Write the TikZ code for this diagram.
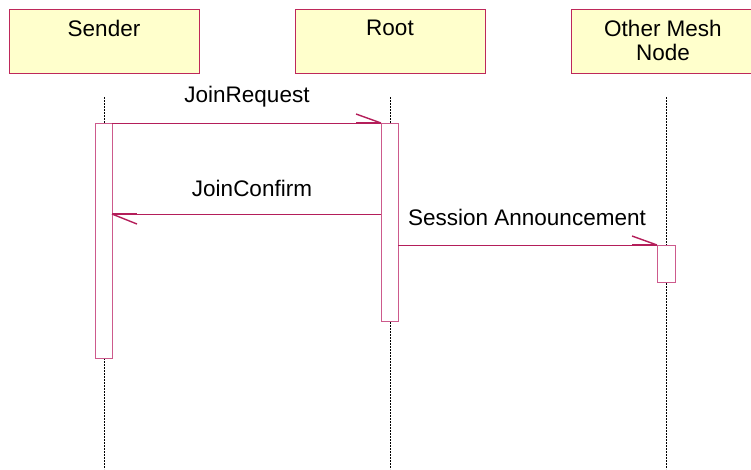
\documentclass[tikz,border=0pt]{standalone}
\usepackage{fontspec}
\setmainfont{Liberation Sans}
\definecolor{boxfill}{RGB}{255,255,204}
\definecolor{boxedge}{RGB}{190,40,90}
\definecolor{msgline}{RGB}{180,30,90}
\definecolor{baredge}{RGB}{205,90,140}
\begin{document}
\begin{tikzpicture}[x=1pt,y=-1pt,
  actor/.style={draw=boxedge,fill=boxfill,line width=1pt,minimum width=190pt,minimum height=64pt,
    inner sep=0pt,anchor=north},
  txt/.style={font=\fontsize{22.5}{24}\selectfont,inner sep=0pt,align=center},
  lifeline/.style={draw=black,line width=0.6pt,dash pattern=on 2pt off 1pt},
  activation/.style={draw=baredge,fill=white,line width=1pt},
  msg/.style={draw=msgline,line width=0.9pt},
  barb/.style={draw=msgline,line width=1.4pt}]
\useasboundingbox (0,0) rectangle (751,469);

% participant heads
\node[actor] (sender) at (104,9) {};
\node[txt] (senderName) at (104,28) {Sender};
\node[actor] (root) at (390,9) {};
\node[txt] (rootName) at (390,28) {Root};
\node[actor] (other) at (666,9) {};
\node[txt] (otherName) at (663,40) {Other Mesh\\Node};

% lifelines
\coordinate (sTop) at (104,97);  \coordinate (sBot) at (104,469);
\coordinate (rTop) at (390,97);  \coordinate (rBot) at (390,469);
\coordinate (oTop) at (666,97);  \coordinate (oBot) at (666,469);
\draw[lifeline] (sTop) -- (sBot);
\draw[lifeline] (rTop) -- (rBot);
\draw[lifeline] (oTop) -- (oBot);

% activation bars
\draw[activation] (95,123) rectangle (112,358);
\draw[activation] (381,123) rectangle (398,321);
\draw[activation] (657,245) rectangle (675,282);
\coordinate (sBarR) at (112,123);
\coordinate (rBarL) at (381,123);
\coordinate (rBarL2) at (381,214);
\coordinate (sBarR2) at (112,214);
\coordinate (rBarR) at (398,245);
\coordinate (oBarL) at (657,245);

% JoinRequest
\draw[msg] (sBarR) -- (rBarL);
\draw[barb] (rBarL) -- ++(-25,-9);
\draw[barb] (rBarL) -- ++(-25,0);
\node[txt] (joinReq) at (247,97) {JoinRequest};

% JoinConfirm
\draw[msg] (rBarL2) -- (sBarR2);
\draw[barb] (sBarR2) -- ++(25,10);
\draw[barb] (sBarR2) -- ++(25,0);
\node[txt] (joinConf) at (252,188) {JoinConfirm};

% Session Announcement
\draw[msg] (rBarR) -- (oBarL);
\draw[barb] (oBarL) -- ++(-25,-9);
\draw[barb] (oBarL) -- ++(-25,0);
\node[txt] (sessAnn) at (527,217) {Session Announcement};
\end{tikzpicture}
\end{document}
